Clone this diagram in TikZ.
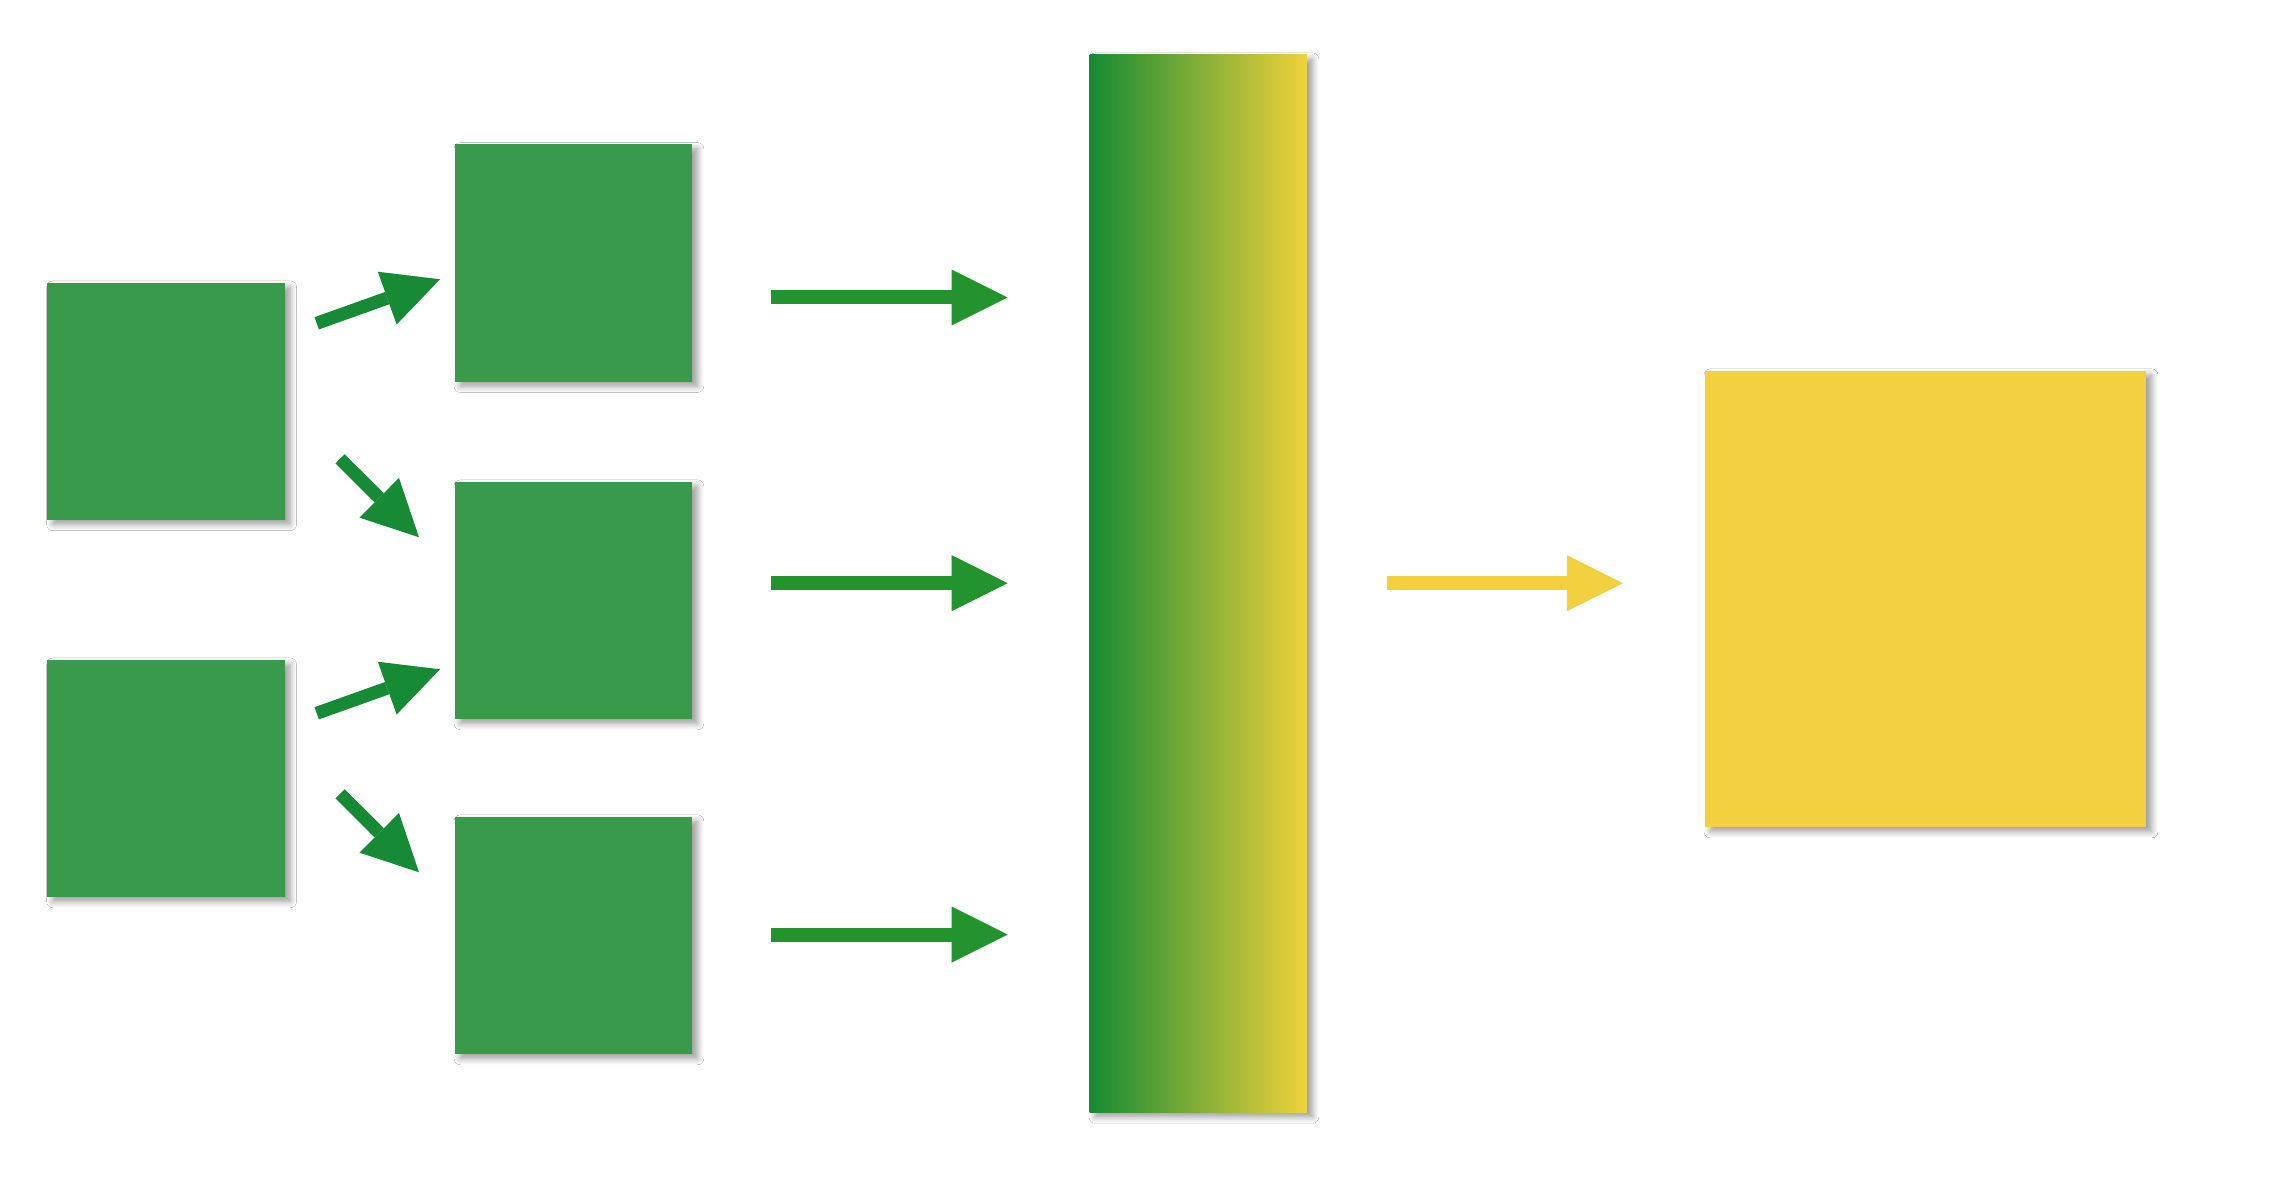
\documentclass[tikz,border=0pt]{standalone}
\usetikzlibrary{arrows.meta,shadows.blur}
\definecolor{sqgreen}{RGB}{56,154,74}
\definecolor{arrgreen}{RGB}{35,147,46}
\definecolor{diaggreen}{RGB}{22,138,52}
\definecolor{bargreen}{RGB}{22,138,52}
\definecolor{baryellow}{RGB}{240,210,60}
\definecolor{sqyellow}{RGB}{242,208,63}
\tikzset{
  boxshadow/.style={blur shadow={shadow xshift=1.6pt,shadow yshift=-1.3pt,shadow blur radius=1.8pt,shadow blur steps=8,shadow opacity=40}},
  greensq/.style={boxshadow,fill=sqgreen,inner sep=0pt,minimum width=2.37cm,minimum height=2.37cm,anchor=north west},
  harrow/.style={line width=0.14cm,-{Triangle[length=0.56cm,width=0.56cm,line width=0pt]}},
  darrow/.style={line width=0.13cm,-{Triangle[length=0.56cm,width=0.56cm,line width=0pt]},diaggreen},
}
\begin{document}
\begin{tikzpicture}[x=0.01cm,y=-0.01cm]
\useasboundingbox (0,0) rectangle (2286,1192);
\fill[white] (0,0) rectangle (2286,1192);
% squares
\node[greensq] (l1) at (46.7,282) {};
\node[greensq] (l2) at (46.7,659) {};
\node[greensq] (m1) at (454,143.7) {};
\node[greensq] (m2) at (454,481) {};
\node[greensq] (m3) at (454,816) {};
\node[boxshadow,left color=bargreen,right color=baryellow,inner sep=0pt,minimum width=2.17cm,minimum height=10.57cm,anchor=north west] (bar) at (1089,54) {};
\node[boxshadow,fill=sqyellow,inner sep=0pt,minimum width=4.41cm,minimum height=4.56cm,anchor=north west] (out) at (1704,370) {};
% arrow end points
\coordinate (d1s) at (316.7,323.3); \coordinate (d1e) at (440,279.3);
\coordinate (d2s) at (340,458.8);   \coordinate (d2e) at (419,537.3);
\coordinate (d3s) at (316.7,713.3); \coordinate (d3e) at (440,669.3);
\coordinate (d4s) at (340,793.8);   \coordinate (d4e) at (419,872.3);
\coordinate (h1s) at (771,297.5);   \coordinate (h1e) at (1007.7,297.5);
\coordinate (h2s) at (771,583.2);   \coordinate (h2e) at (1007.7,583.2);
\coordinate (h3s) at (771,934.6);   \coordinate (h3e) at (1007.7,934.6);
\coordinate (ys) at (1387,583.2);   \coordinate (ye) at (1623,583.2);
% arrows
\draw[darrow] (d1s) -- (d1e);
\draw[darrow] (d2s) -- (d2e);
\draw[darrow] (d3s) -- (d3e);
\draw[darrow] (d4s) -- (d4e);
\draw[harrow,arrgreen] (h1s) -- (h1e);
\draw[harrow,arrgreen] (h2s) -- (h2e);
\draw[harrow,arrgreen] (h3s) -- (h3e);
\draw[harrow,sqyellow] (ys) -- (ye);
\end{tikzpicture}
\end{document}
